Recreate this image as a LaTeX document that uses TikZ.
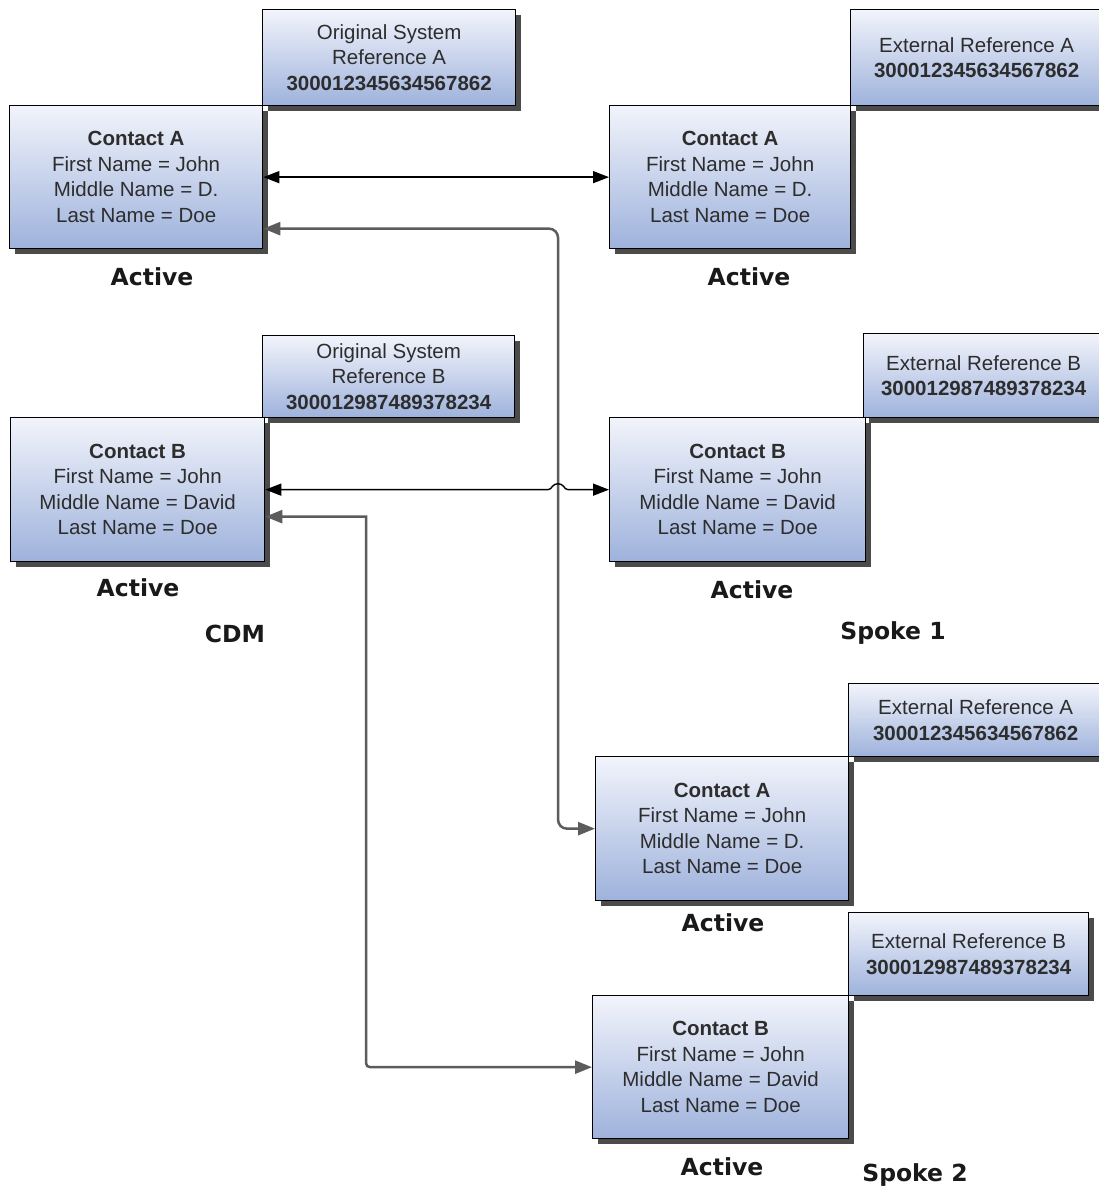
\documentclass[tikz,border=0pt]{standalone}
\usepackage{fontspec}
\setmainfont{Liberation Sans}
\newfontfamily\labelfont{DejaVu Sans}
\usetikzlibrary{arrows.meta,shadows,calc}
\definecolor{boxtop}{RGB}{242,244,251}
\definecolor{boxbot}{RGB}{158,178,220}
\definecolor{boxtext}{RGB}{45,45,45}
\definecolor{greyline}{RGB}{92,92,92}
\definecolor{shadowc}{RGB}{75,75,75}
\tikzset{
  cbox/.style={draw=black, line width=1.3pt, top color=boxtop, bottom color=boxbot,
    anchor=north west, inner sep=0pt, align=center, text=boxtext,
    font=\fontsize{20.5}{25.5}\selectfont,
    general shadow={fill=shadowc, shadow xshift=5pt, shadow yshift=-5pt}},
  lbl/.style={font=\labelfont\bfseries\fontsize{23.5}{28}\selectfont, text=black!90, inner sep=0pt},
  blk/.style={draw=black, line width=1.4pt, {Triangle[length=16pt,width=12pt]}-{Triangle[length=16pt,width=12pt]}},
  gry/.style={draw=greyline, line width=2.5pt, {Triangle[length=17pt,width=13pt]}-{Triangle[length=17pt,width=13pt]}}
}
\begin{document}
\begin{tikzpicture}[x=1pt,y=-1pt]
\useasboundingbox (0,0) rectangle (1098,1190);
\fill[white] (0,0) rectangle (1098,1190);

% CDM
\node[cbox, minimum width=253pt, minimum height=96pt] (refA) at (262,9) {Original System\\Reference A\\\textbf{300012345634567862}};
\node[cbox, minimum width=253pt, minimum height=143pt] (cA) at (9,105) {\textbf{Contact A}\\First Name = John\\Middle Name = D.\\Last Name = Doe};
\node[cbox, minimum width=252pt, minimum height=82pt] (refB) at (262,335) {Original System\\Reference B\\\textbf{300012987489378234}};
\node[cbox, minimum width=254pt, minimum height=144pt] (cB) at (10,417) {\textbf{Contact B}\\First Name = John\\Middle Name = David\\Last Name = Doe};

% Spoke 1
\node[cbox, minimum width=252pt, minimum height=96pt] (s1eA) at (850,9) {External Reference A\\\textbf{300012345634567862}};
\node[cbox, minimum width=241pt, minimum height=143pt] (s1A) at (609,105) {\textbf{Contact A}\\First Name = John\\Middle Name = D.\\Last Name = Doe};
\node[cbox, minimum width=240pt, minimum height=84pt] (s1eB) at (863,333) {External Reference B\\\textbf{300012987489378234}};
\node[cbox, minimum width=256pt, minimum height=144pt] (s1B) at (609,417) {\textbf{Contact B}\\First Name = John\\Middle Name = David\\Last Name = Doe};

% Spoke 2
\node[cbox, minimum width=254pt, minimum height=73pt] (s2eA) at (848,683) {External Reference A\\\textbf{300012345634567862}};
\node[cbox, minimum width=253pt, minimum height=144pt] (s2A) at (595,756) {\textbf{Contact A}\\First Name = John\\Middle Name = D.\\Last Name = Doe};
\node[cbox, minimum width=240pt, minimum height=83pt] (s2eB) at (848,912) {External Reference B\\\textbf{300012987489378234}};
\node[cbox, minimum width=256pt, minimum height=143pt] (s2B) at (592,995) {\textbf{Contact B}\\First Name = John\\Middle Name = David\\Last Name = Doe};

% labels
\node[lbl] (act1) at (152,277) {Active};
\node[lbl] (act2) at (749,277) {Active};
\node[lbl] (act3) at (138,588) {Active};
\node[lbl] (act4) at (752,590) {Active};
\node[lbl] (act5) at (723,923) {Active};
\node[lbl] (act6) at (722,1167) {Active};
\node[lbl] (cdm) at (235,634) {CDM};
\node[lbl] (sp1) at (893,633) {Spoke 1};
\node[lbl] (sp2) at (915,1175) {Spoke 2};

% connectors
\coordinate (vx) at (558,0);
\coordinate (vx2) at (366,0);
\draw[gry, rounded corners=9pt] ($(cA.east)+(0,51.5)$) -| (vx |- s2A.west) -- (s2A.west);
\draw[blk] (cA.east) -- (s1A.west);
\draw[blk] (cB.east) -- ($(vx |- cB.east)+(-10,0)$)
  .. controls ($(vx |- cB.east)+(-6,0)$) and ($(vx |- cB.east)+(-6,-6)$) .. ($(vx |- cB.east)+(0,-6)$)
  .. controls ($(vx |- cB.east)+(6,-6)$) and ($(vx |- cB.east)+(6,0)$) .. ($(vx |- cB.east)+(10,0)$)
  -- (s1B.west);
\draw[gry] ($(cB.east)+(0,27)$) -- ($(vx2 |- cB.east)+(0,27)$) -- ($(vx2 |- s2B.west)+(0,-9)$)
  .. controls (vx2 |- s2B.west) .. ($(vx2 |- s2B.west)+(9,0)$) -- (s2B.west);
\end{tikzpicture}
\end{document}
